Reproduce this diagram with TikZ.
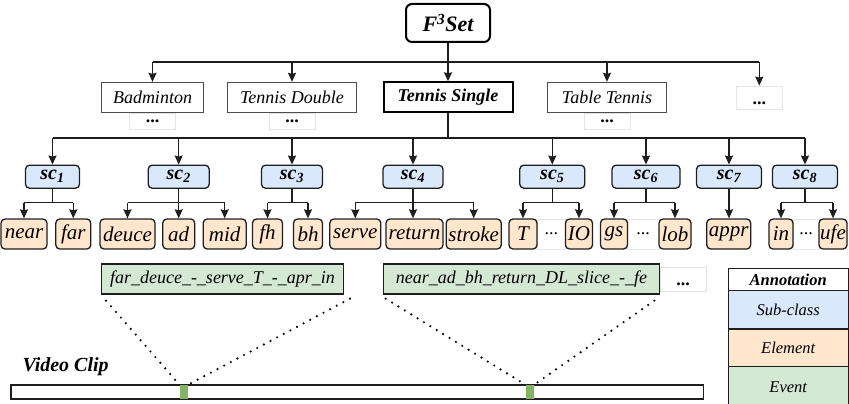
\documentclass[tikz,border=0pt]{standalone}
\usepackage{fontspec}
\setmainfont{Liberation Serif}
\usetikzlibrary{arrows.meta, positioning, calc}

\definecolor{fset_sub}{RGB}{218, 232, 252}
\definecolor{fset_elem}{RGB}{255, 230, 204}
\definecolor{fset_event}{RGB}{213, 232, 212}
\definecolor{fset_clip}{RGB}{130, 179, 102}
\definecolor{fset_faint}{RGB}{228, 228, 228}
\definecolor{fset_line}{RGB}{30, 30, 30}

\begin{document}
\begin{tikzpicture}[x=1pt, y=-1pt,
    wire/.style={line width=1.4pt, draw=fset_line},
    branch/.style={wire, -{Stealth[length=9pt, width=8pt, inset=1pt]}},
    sport/.style={draw=black!70, line width=0.9pt, minimum height=30pt, inner sep=0pt,
      font=\fontsize{18}{20}\selectfont\itshape},
    subcls/.style={draw=fset_line, fill=fset_sub, line width=1.3pt, rounded corners=4pt,
      minimum height=23pt, inner sep=0pt, font=\fontsize{20}{22}\selectfont\bfseries\itshape},
    elem/.style={draw=fset_line, fill=fset_elem, line width=1.3pt, rounded corners=4pt,
      minimum height=30pt, inner sep=0pt, font=\fontsize{21}{23}\selectfont\itshape},
    event/.style={draw=fset_line, fill=fset_event, line width=1.3pt, minimum height=30pt,
      inner sep=0pt, font=\fontsize{18}{20}\selectfont\itshape},
    etcbox/.style={draw=fset_faint, fill=white, line width=0.8pt, inner sep=0pt,
      font=\fontsize{18}{20}\selectfont\bfseries},
    legrow/.style={draw=fset_line, line width=1.3pt, minimum width=120pt, inner sep=0pt,
      outer sep=0pt, font=\fontsize{16.5}{18}\selectfont\itshape},
    clipmark/.style={fill=fset_clip, minimum width=8pt, minimum height=14pt, inner sep=0pt},
    dotline/.style={line width=2.4pt, line cap=round, dash pattern=on 0pt off 7.5pt},
  ]
  \useasboundingbox (0,0) rectangle (849,404);

  % Racine
  \node[draw=black, line width=2pt, rounded corners=6pt, minimum width=84pt, minimum height=38pt,
    font=\fontsize{22}{24}\selectfont\bfseries\itshape] (root) at (448,23) {F\textsuperscript{3}Set};

  % Sports
  \node[sport, minimum width=101.6pt] (bad) at (152.5,97.3) {Badminton};
  \node[sport, minimum width=129.4pt] (tdbl) at (292,97.3) {Tennis Double};
  \node[sport, minimum width=129pt, draw=black, line width=2pt,
    font=\fontsize{18}{20}\selectfont\bfseries\itshape] (tsgl) at (448,97.3) {Tennis Single};
  \node[sport, minimum width=119.4pt] (ttab) at (607,97.3) {Table Tennis};
  \node[etcbox, minimum width=46pt, minimum height=23pt, text height=14pt] (sportMore) at (759.3,97.5) {...};
  \foreach \s in {bad, tdbl, ttab}
    \node[etcbox, minimum width=46pt, minimum height=16pt, below=0pt of \s] (\s-more) {...};

  % Sous-classes
  \foreach \i/\x/\w in {1/52.5/54, 2/178.7/61, 3/292/61, 4/413/60, 5/552.3/65, 6/646/68, 7/729/65, 8/805/65}
    \node[subcls, minimum width=\w pt] (sc\i) at (\x,176.7) {sc\textsubscript{\i}};

  % Elements
  \node[etcbox, minimum width=28.7pt, minimum height=30pt, font=\fontsize{18}{20}\selectfont] (dotsA) at (551.3,234) {...};
  \node[etcbox, minimum width=31.7pt, minimum height=30pt, font=\fontsize{18}{20}\selectfont] (dotsB) at (643.2,234) {...};
  \node[etcbox, minimum width=25.7pt, minimum height=30pt, font=\fontsize{18}{20}\selectfont] (dotsC) at (806.2,234) {...};
  \foreach \n/\x/\w in {near/24/46, far/73.3/35, deuce/127.5/55, ad/178.7/32, mid/224.7/43,
      fh/267.5/30, bh/308/29, serve/355.3/51, return/414.5/57, stroke/473.7/55, T/523/28,
      IO/579/27, gs/614/27, lob/675/32, appr/728.7/44, in/781/24, ufe/833/28}
    \node[elem, minimum width=\w pt] (\n) at (\x,234) {\n};

  % Racine -> sports
  \coordinate (busA) at (0,62);
  \draw[branch] (root.south) -- (tsgl.north);
  \draw[wire] (bad.north |- busA) -- (sportMore.north |- busA);
  \foreach \s in {bad, tdbl, ttab, sportMore}
    \draw[branch] (\s.north |- busA) -- (\s.north);

  % Tennis Single -> sous-classes
  \coordinate (busB) at (0,138);
  \draw[wire] (tsgl.south) -- (tsgl.south |- busB);
  \draw[wire] (sc1.north |- busB) -- (sc8.north |- busB);
  \foreach \i in {1,...,8}
    \draw[branch] (sc\i.north |- busB) -- (sc\i.north);

  % Sous-classes -> elements
  \coordinate (busC) at (0,202.7);
  \foreach \s/\a/\b in {sc1/near/far, sc2/deuce/mid, sc3/fh/bh, sc4/serve/stroke,
      sc5/T/IO, sc6/gs/lob, sc8/in/ufe} {
    \draw[wire] (\s.south) -- (\s.south |- busC);
    \draw[wire] (\a.north |- busC) -- (\b.north |- busC);
    \draw[branch] (\a.north |- busC) -- (\a.north);
    \draw[branch] (\b.north |- busC) -- (\b.north);
  }
  \draw[branch] (sc2.south) -- (ad.north);
  \draw[branch] (sc4.south) -- (sc4.south |- return.north);
  \draw[branch] (sc7.south) -- (sc7.south |- appr.north);

  % Evenements
  \node[etcbox, minimum width=46pt, minimum height=24pt, text height=14pt] (evMore) at (683,279) {...};
  \node[event, minimum width=241.6pt] (ev1) at (222.5,279) {far\_deuce\_-\_serve\_T\_-\_apr\_in};
  \node[event, minimum width=276.4pt] (ev2) at (521.5,279) {near\_ad\_bh\_return\_DL\_slice\_-\_fe};

  % Clip video
  \node[anchor=west, font=\fontsize{20}{22}\selectfont\bfseries\itshape] (clipLbl) at (19,367) {Video Clip};
  \node[draw=fset_line, line width=1.3pt, minimum width=692.3pt, minimum height=14pt, inner sep=0pt] (clip) at (357.2,392) {};
  \node[clipmark] (m1) at (183.8,392) {};
  \node[clipmark] (m2) at (529.8,392) {};
  \draw[dotline] ($(ev1.south west)+(5,6)$) -- (m1.north west);
  \draw[dotline] ($(ev1.south east)+(6,4)$) -- (m1.north east);
  \draw[dotline] ($(ev2.south west)+(3,4)$) -- (m2.north west);
  \draw[dotline] ($(ev2.south east)+(-6,6)$) -- (m2.north east);

  % Legende
  \node[legrow, fill=white, minimum height=22.4pt,
    font=\fontsize{16.5}{18}\selectfont\bfseries\itshape] (lgHead) at (788.2,279.5) {Annotation};
  \node[legrow, fill=fset_sub, minimum height=38.3pt, below=0pt of lgHead] (lgSub) {Sub-class};
  \node[legrow, fill=fset_elem, minimum height=37.7pt, below=0pt of lgSub] (lgElem) {Element};
  \node[legrow, fill=fset_event, minimum height=40pt, below=0pt of lgElem] (lgEvent) {Event};
\end{tikzpicture}
\end{document}
